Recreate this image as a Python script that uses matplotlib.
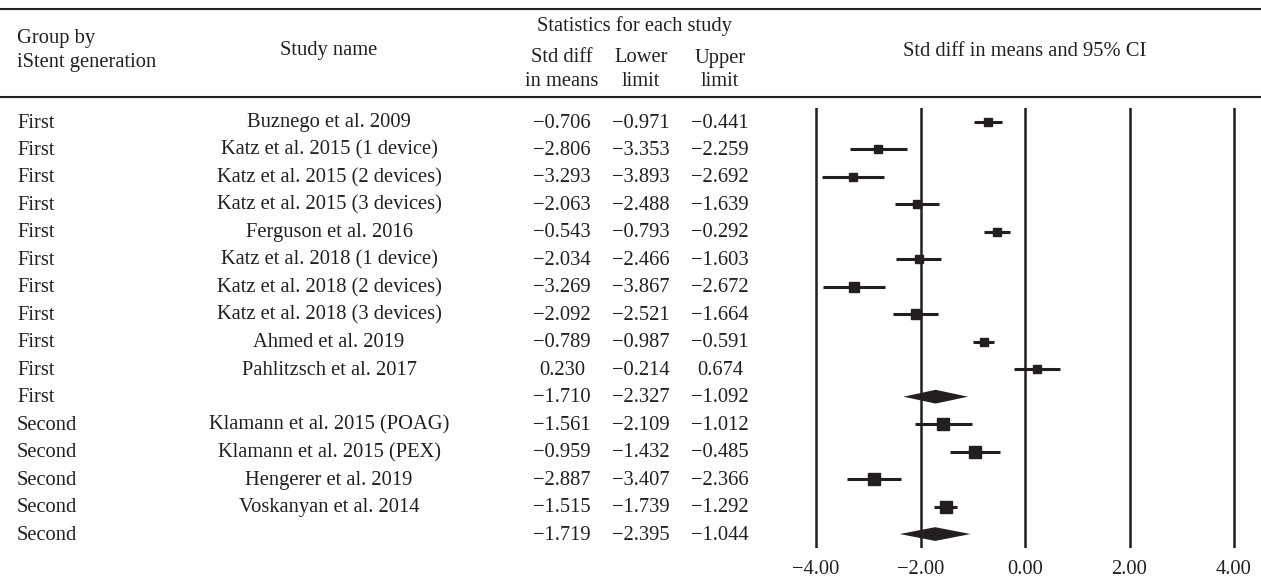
import matplotlib
matplotlib.use("Agg")
import matplotlib.pyplot as plt
import numpy as np

# ---------------- data ----------------
groups = ["First"] * 11 + ["Second"] * 5
studies = [
    "Buznego et al. 2009",
    "Katz et al. 2015 (1 device)",
    "Katz et al. 2015 (2 devices)",
    "Katz et al. 2015 (3 devices)",
    "Ferguson et al. 2016",
    "Katz et al. 2018 (1 device)",
    "Katz et al. 2018 (2 devices)",
    "Katz et al. 2018 (3 devices)",
    "Ahmed et al. 2019",
    "Pahlitzsch et al. 2017",
    "",
    "Klamann et al. 2015 (POAG)",
    "Klamann et al. 2015 (PEX)",
    "Hengerer et al. 2019",
    "Voskanyan et al. 2014",
    "",
]
std_diff = [-0.706, -2.806, -3.293, -2.063, -0.543, -2.034, -3.269, -2.092,
            -0.789, 0.230, -1.710, -1.561, -0.959, -2.887, -1.515, -1.719]
lower = [-0.971, -3.353, -3.893, -2.488, -0.793, -2.466, -3.867, -2.521,
         -0.987, -0.214, -2.327, -2.109, -1.432, -3.407, -1.739, -2.395]
upper = [-0.441, -2.259, -2.692, -1.639, -0.292, -1.603, -2.672, -1.664,
         -0.591, 0.674, -1.092, -1.012, -0.485, -2.366, -1.292, -1.044]
is_summary = [False] * 10 + [True] + [False] * 4 + [True]
# relative study weight shown as box size
rel_weight = [0.68, 0.68, 0.68, 0.70, 0.72, 0.72, 0.74, 0.74, 0.70, 0.72,
              None, 0.95, 0.95, 0.98, 1.02, None]
xticks = [-4, -2, 0, 2, 4]

# ---------------- style / layout ----------------
W, H = 1261, 584
INK = "#231f20"
FONT = "Liberation Serif"
FS = 14.8
BOX_PX = 12.3                          # box side (px) for weight 1.0
BASE = 5.5                             # baseline offset below visual centre
plt.rcParams["font.family"] = [FONT, "DejaVu Serif"]

ROW0, ROWSTEP = 122.0, 27.47          # pixel row geometry
PX0, PXU = 1025.0, 52.25              # pixel of x=0, pixels per unit

fig = plt.figure(figsize=(W / 100, H / 100), dpi=100)

# table axes in pixel coordinates
tab = fig.add_axes([0, 0, 1, 1])
tab.set_xlim(0, W)
tab.set_ylim(H, 0)
tab.axis("off")

tab.hlines([9, 97], 0, W, color=INK, lw=1.5)

def t(x, y, s, ha="center"):
    tab.text(x, y + BASE, s, ha=ha, va="baseline", fontsize=FS, color=INK)

t(17, 37, "Group by", ha="left")
t(17, 62, "iStent generation", ha="left")
t(329, 50, "Study name")
t(634, 26, "Statistics for each study")
t(562, 57, "Std diff"); t(562, 80, "in means")
t(641, 57, "Lower");    t(641, 80, "limit")
t(720, 57, "Upper");    t(720, 80, "limit")
t(1025, 50, "Std diff in means and 95% CI")

def fmt(v):
    return f"{v:.3f}".replace("-", "\u2212")

for i in range(len(groups)):
    y = ROW0 + ROWSTEP * i
    t(17, y, groups[i], ha="left")
    if studies[i]:
        t(329, y, studies[i])
    t(562, y, fmt(std_diff[i]))
    t(641, y, fmt(lower[i]))
    t(720, y, fmt(upper[i]))

# forest axes
left_px, right_px, top_px, bot_px = 790, 1260, 108, 548
ax = fig.add_axes([left_px / W, 1 - bot_px / H,
                   (right_px - left_px) / W, (bot_px - top_px) / H])
ax.set_xlim((left_px - PX0) / PXU, (right_px - PX0) / PXU)
ax.set_ylim((bot_px - ROW0) / ROWSTEP, (top_px - ROW0) / ROWSTEP)
for sp in ax.spines.values():
    sp.set_visible(False)
ax.set_yticks([])
ax.set_xticks(xticks)
ax.set_xticklabels([f"{v:.2f}".replace("-", "\u2212") for v in xticks],
                   fontsize=FS, color=INK, family=[FONT, "DejaVu Serif"])
ax.tick_params(axis="x", length=0, pad=9)
ax.set_axisbelow(True)
ax.grid(axis="x", color=INK, lw=1.8)
ax.grid(axis="y", visible=False)

rows = np.arange(len(groups))
for i in rows:
    if is_summary[i]:
        h = 0.25
        xs = [lower[i], std_diff[i], upper[i], std_diff[i]]
        ys = [i, i - h, i, i + h]
        ax.fill(xs, ys, color=INK, zorder=3, lw=0)
    else:
        ax.hlines(i, lower[i], upper[i], color=INK, lw=2.2,
                  capstyle="butt", zorder=3)
        ax.plot(std_diff[i], i, marker="s", color=INK, lw=0,
                markersize=BOX_PX * rel_weight[i] * 0.72, zorder=4)

fig.savefig("out.png", dpi=100)
